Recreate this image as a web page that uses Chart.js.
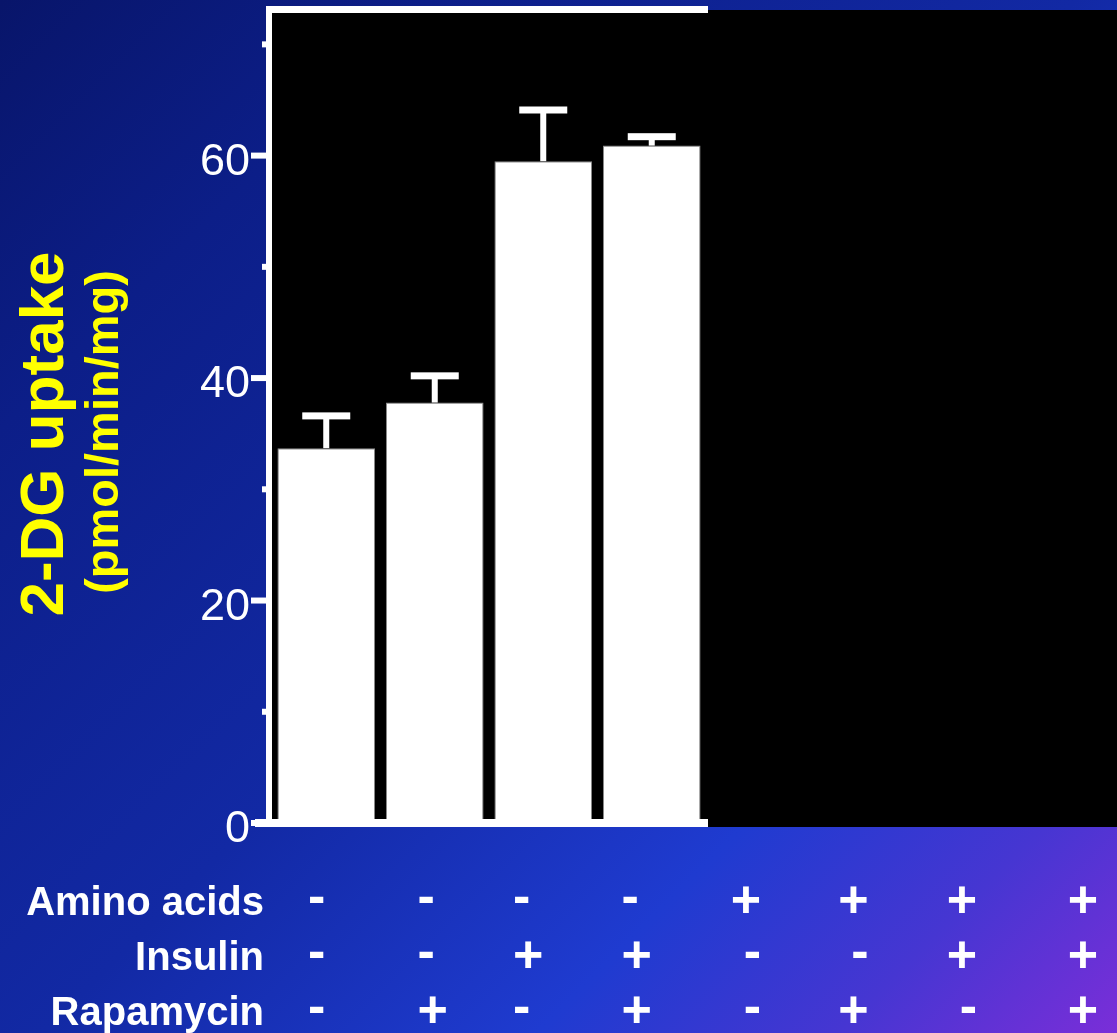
<!DOCTYPE html>
<html>
<head>
<meta charset="utf-8">
<script src="https://cdn.jsdelivr.net/npm/chart.js@4.4.1/dist/chart.umd.min.js"></script>
<style>
  html, body { margin: 0; padding: 0; width: 1117px; height: 1033px; overflow: hidden; }
  body {
    background: linear-gradient(135deg, #08156a 0%, #0c1e88 20%, #1229a4 50%, #1f3bd0 73%, #4636d2 87%, #7a2ed8 100%);
  }
  #wrap { position: absolute; left: 0; top: 0; width: 1140px; height: 1033px; }
</style>
</head>
<body>
<div id="wrap"><canvas id="chart"></canvas></div>
<script>
// Treatment conditions for each of the eight groups
const aminoAcids = ['-', '-', '-', '-', '+', '+', '+', '+'];
const insulin    = ['-', '-', '+', '+', '-', '-', '+', '+'];
const rapamycin  = ['-', '+', '-', '+', '-', '+', '-', '+'];
const rowLabels  = ['Amino acids', 'Insulin', 'Rapamycin'];

// 2-DG uptake (pmol/min/mg) and its error; the last four groups are masked
const uptake    = [33.7, 37.8, 59.5, 60.9, null, null, null, null];
const uptakeErr = [2.9, 2.4, 4.6, 0.8, null, null, null, null];

// Y axis ticks
const yTicks    = [0, 10, 20, 30, 40, 50, 60, 70];
const yLabelled = [0, 20, 40, 60];

const axisTitle = '2-DG uptake';
const axisUnit  = '(pmol/min/mg)';

const groupNames = aminoAcids.map((a, i) => a + insulin[i] + rapamycin[i]);

const FONT = "'Liberation Sans', Arial, Helvetica, sans-serif";

// Black plot panel, white half frame, tick marks and error bars
const framePlugin = {
  id: 'frame',
  beforeDatasetsDraw(chart) {
    const { ctx, chartArea: a, scales: { y } } = chart;
    const y0 = y.getPixelForValue(0);
    ctx.save();
    ctx.fillStyle = '#000000';
    ctx.fillRect(a.left, a.top - 1, a.right - a.left, y0 + 4 - (a.top - 1));
    ctx.restore();
  },
  afterDatasetsDraw(chart) {
    const { ctx, chartArea: a, scales: { x, y } } = chart;
    const y0 = y.getPixelForValue(0);
    const meta = chart.getDatasetMeta(0);
    ctx.save();
    ctx.fillStyle = '#ffffff';

    // error bars
    uptake.forEach((v, i) => {
      if (v == null || uptakeErr[i] == null) return;
      const cx = meta.data[i].x;
      const top = y.getPixelForValue(v);
      const err = y.getPixelForValue(v + uptakeErr[i]);
      ctx.fillRect(cx - 3, err, 6, top - err);
      ctx.fillRect(cx - 24, err - 3.5, 48, 7);
    });

    // frame around the visible half
    const split = (x.getPixelForValue(3) + x.getPixelForValue(4)) / 2 + 2;
    ctx.fillRect(a.left - 6, a.top - 5, split - (a.left - 6), 7);
    ctx.fillRect(a.left - 6, a.top - 5, 6, y0 + 4 - (a.top - 5));
    ctx.fillRect(a.left - 17, y0 - 4, split - (a.left - 17), 8);

    // tick marks
    yTicks.forEach(v => {
      const py = y.getPixelForValue(v);
      const len = yLabelled.includes(v) ? 15 : 4;
      ctx.fillRect(a.left - 6 - len, py - 3, len, 6);
    });
    ctx.restore();
  },
  afterDraw(chart) {
    const { ctx } = chart;
    ctx.save();

    // rotated axis title in two sizes
    ctx.fillStyle = '#ffff00';
    ctx.textAlign = 'center';
    ctx.textBaseline = 'alphabetic';
    ctx.save();
    ctx.translate(63, 434);
    ctx.rotate(-Math.PI / 2);
    ctx.font = `bold 62px ${FONT}`;
    ctx.fillText(axisTitle, 0, 0);
    ctx.restore();
    ctx.save();
    ctx.translate(118, 432);
    ctx.rotate(-Math.PI / 2);
    ctx.font = `bold 47px ${FONT}`;
    ctx.fillText(axisUnit, 0, 0);
    ctx.restore();

    // treatment table under the plot
    const rows = [aminoAcids, insulin, rapamycin];
    const baselines = [915, 970, 1025];
    const signCentres = [899.5, 954.5, 1009.5];
    const colAnchor = [308, 417.5, 513, 621.5, 761, 868.5, 977, 1098];
    ctx.fillStyle = '#ffffff';
    rows.forEach((signs, r) => {
      ctx.font = `bold 40px ${FONT}`;
      ctx.textAlign = 'right';
      ctx.fillText(rowLabels[r], 264, baselines[r]);
      ctx.font = `bold 52px ${FONT}`;
      signs.forEach((s, i) => {
        ctx.textAlign = i < 4 ? 'left' : 'right';
        const m = ctx.measureText(s);
        const base = signCentres[r] + (m.actualBoundingBoxAscent - m.actualBoundingBoxDescent) / 2;
        ctx.fillText(s, colAnchor[i], base);
      });
    });
    ctx.restore();
  }
};

new Chart(document.getElementById('chart'), {
  type: 'bar',
  data: {
    labels: groupNames,
    datasets: [{
      data: uptake,
      backgroundColor: '#ffffff',
      borderColor: '#8a8a8a',
      borderWidth: 1,
      categoryPercentage: 1,
      barPercentage: 0.9
    }]
  },
  options: {
    responsive: true,
    maintainAspectRatio: false,
    animation: false,
    layout: { padding: { top: 11, bottom: 210, left: 0, right: 0 } },
    plugins: { legend: { display: false }, tooltip: { enabled: false } },
    scales: {
      x: { display: false },
      y: {
        min: 0,
        max: 73,
        afterFit(scale) {
          scale.width = 272;
          scale.paddingTop = 0;
          scale.paddingBottom = 0;
        },
        afterBuildTicks(scale) { scale.ticks = yTicks.map(v => ({ value: v })); },
        grid: { display: false, drawTicks: false },
        border: { display: false },
        ticks: {
          color: '#ffffff',
          font: { family: FONT, size: 45 },
          padding: 22,
          labelOffset: 7,
          autoSkip: false,
          callback: v => (yLabelled.includes(v) ? String(v) : '')
        }
      }
    }
  },
  plugins: [framePlugin]
});
</script>
</body>
</html>
